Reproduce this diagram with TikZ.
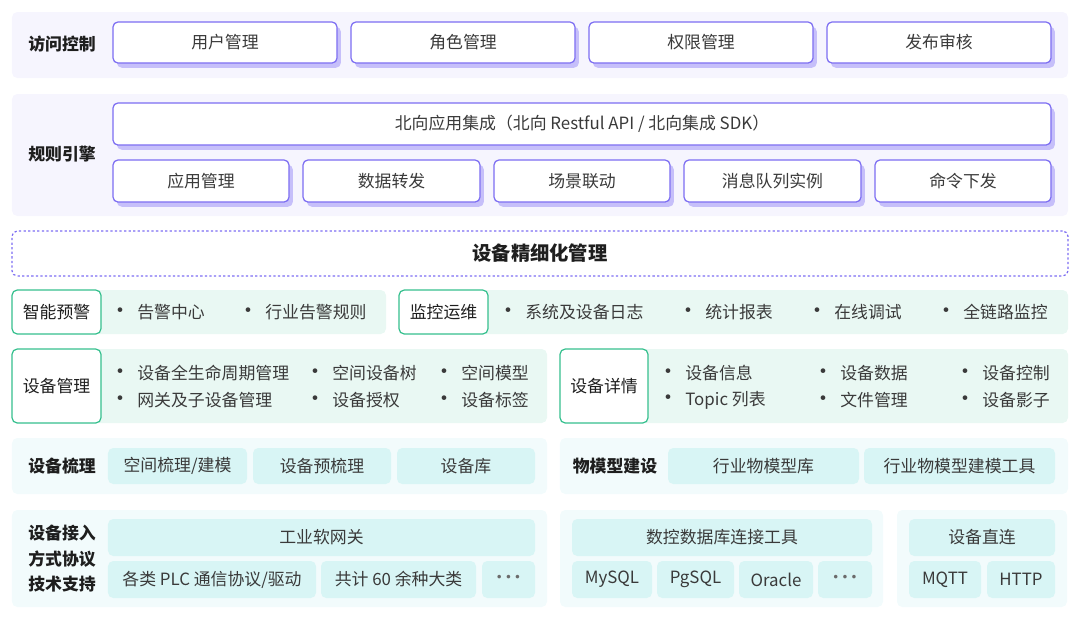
\documentclass[tikz,border=0pt]{standalone}
\usepackage{fontspec}
\setmainfont{Noto Sans CJK SC}
\usetikzlibrary{shadows}
\definecolor{secbg}{HTML}{F6F5FE}
\definecolor{pline}{HTML}{7C6DF2}
\definecolor{pshade}{HTML}{C6BFFA}
\definecolor{gbg}{HTML}{E9F8F3}
\definecolor{gline}{HTML}{36C08E}
\definecolor{cbg}{HTML}{F2FBFC}
\definecolor{cbox}{HTML}{D8F5F5}
\definecolor{txt}{HTML}{3A3A3A}
\definecolor{ink}{HTML}{1E1E1E}
\def\bulgap{3.6pt}
\newcommand{\bul}[1]{\llap{{\fontsize{12.5}{12.5}\selectfont\textcolor{txt}{•}}\hspace{\bulgap}}#1}
\newcommand{\dotsthree}{\textcolor{txt!75}{\makebox[5.2pt]{·}\makebox[5.2pt]{·}\makebox[5.2pt]{·}}}
% box from pixel corners: style, name, x1, y1, x2, y2, text
\newcommand{\pxbox}[7]{%
  \pgfmathsetmacro{\boxw}{(#5-#3)*0.02}%
  \pgfmathsetmacro{\boxh}{(#6-#4)*0.02}%
  \node[#1, minimum width=\boxw cm, minimum height=\boxh cm] (#2) at ({(#3+#5)/2},{(#4+#6)/2}) {#7};}

\begin{document}
\begin{tikzpicture}[x=0.02cm, y=-0.02cm, text=txt,
  font=\fontsize{9.6}{11.5}\selectfont,
  sec/.style={fill=secbg, rounded corners=3pt, inner sep=0pt},
  pbox/.style={draw=pline, line width=0.7pt, fill=white, rounded corners=2.8pt, inner sep=0pt,
    drop shadow={fill=pshade, opacity=1, shadow xshift=2.2pt, shadow yshift=-2.7pt}},
  gsec/.style={fill=gbg, rounded corners=3pt, inner sep=0pt},
  gbox/.style={draw=gline, line width=0.7pt, fill=white, rounded corners=3pt, inner sep=0pt, text=ink},
  csec/.style={fill=cbg, rounded corners=3pt, inner sep=0pt},
  cbx/.style={fill=cbox, rounded corners=3pt, inner sep=0pt},
  dbox/.style={draw=pline, line width=0.7pt, dash pattern=on 1.3pt off 1.3pt, rounded corners=3pt, inner sep=0pt},
  lbl/.style={font=\fontsize{9.6}{14.5}\selectfont\bfseries, text=ink, inner sep=0pt},
  itm/.style={anchor=west, inner sep=0pt}]
  \useasboundingbox (0,0) rectangle (1080,620);

  % access control
  \pxbox{sec}{fkkz}{12}{12}{1068}{78}{}
  \node[lbl] (fkkzl) at (62,44) {访问控制};
  \pxbox{pbox}{yhgl}{113}{22}{337}{63}{用户管理}
  \pxbox{pbox}{jsgl}{351}{22}{575}{63}{角色管理}
  \pxbox{pbox}{qxgl}{589}{22}{813}{63}{权限管理}
  \pxbox{pbox}{fbsh}{827}{22}{1051}{63}{发布审核}

  % rule engine
  \pxbox{sec}{gzyq}{12}{94}{1068}{216}{}
  \node[lbl] (gzyql) at (62,154) {规则引擎};
  \pxbox{pbox}{bxjc}{113}{103}{1051}{145}{北向应用集成（北向 Restful API / 北向集成 SDK）}
  \pxbox{pbox}{yygl}{113}{160}{289}{202}{应用管理}
  \pxbox{pbox}{sjzf}{303}{160}{480}{202}{数据转发}
  \pxbox{pbox}{cjld}{494}{160}{670}{202}{场景联动}
  \pxbox{pbox}{xxdl}{684}{160}{861}{202}{消息队列实例}
  \pxbox{pbox}{mlxf}{875}{160}{1051}{202}{命令下发}

  % fine management
  \pxbox{dbox}{jxgl}{12}{231}{1068}{276}{}
  \node[lbl, font=\fontsize{11}{13}\selectfont\bfseries] (jxgll) at (540,253) {设备精细化管理};

  % warning / monitoring
  \pxbox{gsec}{znyj}{12}{290}{386}{334}{}
  \pxbox{gbox}{znyjl}{12}{290}{101}{334}{智能预警}
  \node[itm] (gjzx) at (137,312) {\bul{告警中心}};
  \node[itm] (hygj) at (265,312) {\bul{行业告警规则}};
  \pxbox{gsec}{jkyw}{399}{290}{1068}{334}{}
  \pxbox{gbox}{jkywl}{399}{290}{488}{334}{监控运维}
  \node[itm] (xtrz) at (525,312) {\bul{系统及设备日志}};
  \node[itm] (tjbb) at (705,312) {\bul{统计报表}};
  \node[itm] (zxts) at (834,312) {\bul{在线调试}};
  \node[itm] (qljk) at (963,312) {\bul{全链路监控}};

  % device management / details
  \pxbox{gsec}{sbgl}{12}{349}{547}{423}{}
  \pxbox{gbox}{sbgll}{12}{349}{101}{423}{设备管理}
  \node[itm] (smzq) at (137,373) {\bul{设备全生命周期管理}};
  \node[itm] (wgzs) at (137,400) {\bul{网关及子设备管理}};
  \node[itm] (kjsbs) at (332,373) {\bul{空间设备树}};
  \node[itm] (sbsq) at (332,400) {\bul{设备授权}};
  \node[itm] (kjmx) at (461,373) {\bul{空间模型}};
  \node[itm] (sbbq) at (461,400) {\bul{设备标签}};
  \pxbox{gsec}{sbxq}{560}{349}{1068}{423}{}
  \pxbox{gbox}{sbxql}{560}{349}{648}{423}{设备详情}
  \node[itm] (sbxx) at (685,373) {\bul{设备信息}};
  \node[itm] (tplb) at (685,400) {\bul{Topic 列表}};
  \node[itm] (sbsj) at (840,373) {\bul{设备数据}};
  \node[itm] (wjgl) at (840,400) {\bul{文件管理}};
  \node[itm] (sbkz) at (982,373) {\bul{设备控制}};
  \node[itm] (sbyz) at (982,400) {\bul{设备影子}};

  % sorting / model building
  \pxbox{csec}{sbsl}{12}{438}{547}{494}{}
  \node[lbl] (sbsll) at (62,466) {设备梳理};
  \pxbox{cbx}{kjsl}{108}{448}{247}{484}{空间梳理/建模}
  \pxbox{cbx}{sbysl}{253}{448}{391}{484}{设备预梳理}
  \pxbox{cbx}{sbk}{397}{448}{535}{484}{设备库}
  \pxbox{csec}{wmx}{560}{438}{1068}{494}{}
  \node[lbl] (wmxl) at (615,466) {物模型建设};
  \pxbox{cbx}{hywmk}{668}{448}{859}{484}{行业物模型库}
  \pxbox{cbx}{hyjmgj}{864}{448}{1055}{484}{行业物模型建模工具}

  % access protocols
  \pxbox{csec}{jrxy}{12}{510}{547}{607}{}
  \node[lbl, align=left] (jrxyl) at (62,559) {设备接入\\方式协议\\技术支持};
  \pxbox{cbx}{gywg}{108}{519}{535}{556}{工业软网关}
  \pxbox{cbx}{plc}{108}{561}{316}{598}{各类 PLC 通信协议/驱动}
  \pxbox{cbx}{gj60}{321}{561}{476}{598}{共计 60 余种大类}
  \pxbox{cbx}{more1}{482}{561}{535}{598}{\dotsthree}
  \pxbox{csec}{sjk}{560}{510}{883}{607}{}
  \pxbox{cbx}{sjkgj}{572}{519}{872}{556}{数控数据库连接工具}
  \pxbox{cbx}{mysql}{572}{561}{652}{598}{MySQL}
  \pxbox{cbx}{pgsql}{657}{561}{734}{598}{PgSQL}
  \pxbox{cbx}{oracle}{739}{561}{813}{598}{Oracle}
  \pxbox{cbx}{more2}{818}{561}{872}{598}{\dotsthree}
  \pxbox{csec}{zl}{897}{510}{1067}{607}{}
  \pxbox{cbx}{sbzl}{909}{519}{1055}{556}{设备直连}
  \pxbox{cbx}{mqtt}{909}{561}{981}{598}{MQTT}
  \pxbox{cbx}{http}{987}{561}{1055}{598}{HTTP}
\end{tikzpicture}
\end{document}
